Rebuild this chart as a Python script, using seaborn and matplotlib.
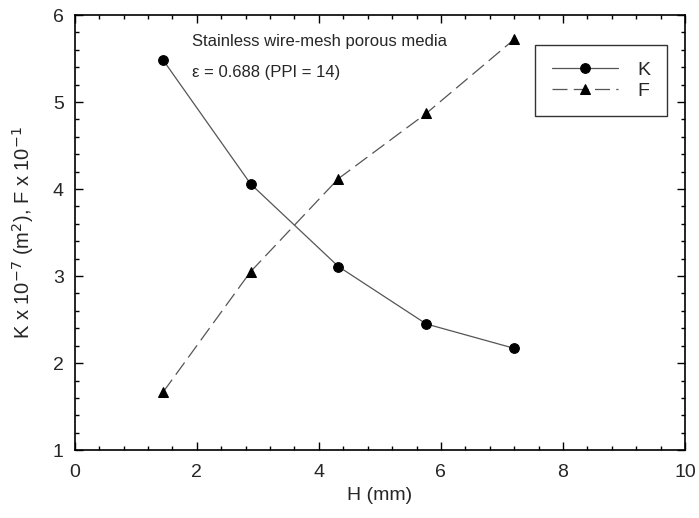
import matplotlib
matplotlib.use("Agg")
import matplotlib.pyplot as plt
import seaborn as sns
import pandas as pd
from matplotlib.ticker import MultipleLocator

H = [1.45, 2.88, 4.32, 5.76, 7.20]
K = [5.48, 4.06, 3.11, 2.45, 2.17]
F = [1.67, 3.05, 4.12, 4.87, 5.72]

sns.set_theme(style="ticks")
plt.rcParams['font.family'] = ['Liberation Sans', 'DejaVu Sans']
plt.rcParams['axes.unicode_minus'] = False

fig = plt.figure(figsize=(6.99, 5.18), dpi=100)
ax = fig.add_axes([0.107, 0.131, 0.873, 0.840])

dfK = pd.DataFrame({"H": H, "v": K})
dfF = pd.DataFrame({"H": H, "v": F})
sns.lineplot(data=dfK, x="H", y="v", ax=ax, color="#555555", lw=0.9,
             marker="o", markersize=7, markerfacecolor="black",
             markeredgecolor="black", label="K")
sns.lineplot(data=dfF, x="H", y="v", ax=ax, color="#555555", lw=0.9,
             marker="^", markersize=7, markerfacecolor="black",
             markeredgecolor="black", label="F")
ax.lines[1].set_dashes((12, 5))

ax.set_xlim(0, 10)
ax.set_ylim(1, 6)
ax.xaxis.set_major_locator(MultipleLocator(2))
ax.xaxis.set_minor_locator(MultipleLocator(0.4))
ax.yaxis.set_major_locator(MultipleLocator(1))
ax.yaxis.set_minor_locator(MultipleLocator(0.2))
ax.tick_params(which="both", direction="in", top=True, right=True,
               color="black", labelsize=14, width=1)
ax.tick_params(which="major", length=6)
ax.tick_params(which="minor", length=3)
ax.tick_params(axis="x", which="major", pad=10)
ax.tick_params(axis="y", which="major", pad=8)
for s in ax.spines.values():
    s.set_color("black")
    s.set_linewidth(1.2)

ax.set_xlabel("H (mm)", fontsize=14, labelpad=4)
ax.set_ylabel(r"K x 10$^{-7}$ (m$^{2}$), F x 10$^{-1}$", fontsize=14.5, labelpad=12)

ax.text(1.92, 5.69, "Stainless wire-mesh porous media", fontsize=12, ha="left", va="center")
ax.text(1.92, 5.345, "ε = 0.688 (PPI = 14)", fontsize=12, ha="left", va="center")

leg = ax.legend(loc="upper right", bbox_to_anchor=(0.970, 0.931), frameon=True,
                fancybox=False, edgecolor="black", fontsize=14,
                handlelength=3.4, borderpad=0.85, labelspacing=0.15,
                handletextpad=1.0, borderaxespad=0)
leg.get_frame().set_linewidth(1.0)

fig.savefig("out.png", dpi=100)
